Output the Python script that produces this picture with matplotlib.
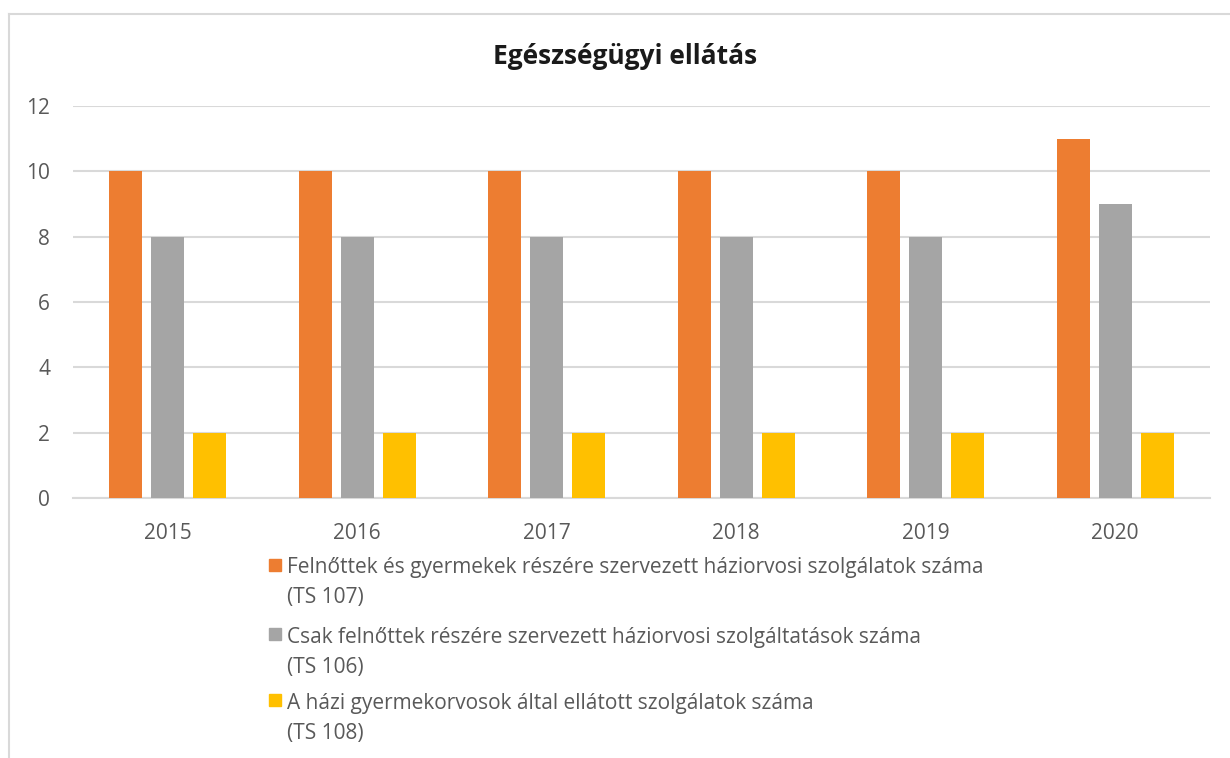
import matplotlib
matplotlib.use('Agg')
import matplotlib.pyplot as plt
import numpy as np
from matplotlib.patches import Rectangle
from matplotlib.lines import Line2D

plt.rcParams['font.family'] = ['Open Sans', 'DejaVu Sans']

years = ['2015', '2016', '2017', '2018', '2019', '2020']
ts107 = [10, 10, 10, 10, 10, 11]
ts106 = [8, 8, 8, 8, 8, 9]
ts108 = [2, 2, 2, 2, 2, 2]
labels = [
    'Felnőttek és gyermekek részére szervezett háziorvosi szolgálatok száma\n(TS 107)',
    'Csak felnőttek részére szervezett háziorvosi szolgáltatások száma\n(TS 106)',
    'A házi gyermekorvosok által ellátott szolgálatok száma\n(TS 108)',
]
colors = ['#ED7D31', '#A5A5A5', '#FFC000']

W, H = 1230, 758
fig = plt.figure(figsize=(12.3, 7.58), dpi=100, facecolor='white')

# chart frame (light grey, only left and top visible)
fig.add_artist(Line2D([9 / W, 9 / W], [0, 1 - 14 / H], color='#d9d9d9', lw=1.5))
fig.add_artist(Line2D([9 / W, 1], [1 - 14 / H, 1 - 14 / H], color='#d9d9d9', lw=1.5))

ax = fig.add_axes([73 / W, 1 - 498 / H, (1210 - 73) / W, (498 - 106) / H])
x = np.arange(len(years))
bw = 0.175
off = 0.222
for i, (vals, c) in enumerate(zip([ts107, ts106, ts108], colors)):
    ax.bar(x + (i - 1) * off, vals, width=bw, color=c, zorder=3)

ax.set_xlim(-0.5, len(years) - 0.5)
ax.set_ylim(0, 12)
ax.set_yticks(range(0, 13, 2))
ax.set_xticks(x)
ax.set_xticklabels(years)
ax.tick_params(axis='both', length=0, labelsize=15, colors='#595959')
ax.tick_params(axis='x', pad=18)
ax.tick_params(axis='y', pad=16.5)
ax.grid(axis='y', color='#d9d9d9', lw=1.5, zorder=0)
for s in ['top', 'right', 'left']:
    ax.spines[s].set_visible(False)
ax.spines['bottom'].set_color('#d9d9d9')
ax.spines['bottom'].set_linewidth(1.5)

fig.text(625 / W, 1 - 57 / H, 'Egészségügyi ellátás', ha='center', va='center',
         fontsize=19, fontweight='bold', color='#1a1a1a')

# legend: square marker beside the first line, second line underneath
ys = [565, 634, 700]
for lab, c, y in zip(labels, colors, ys):
    fig.add_artist(Rectangle((269 / W, 1 - (y + 6) / H), 12 / W, 12 / H,
                             transform=fig.transFigure, color=c))
    line1, line2 = lab.split('\n')
    fig.text(287 / W, 1 - (y + 3) / H, line1, ha='left', va='center', fontsize=15,
             color='#595959')
    fig.text(287 / W, 1 - (y + 33) / H, line2, ha='left', va='center', fontsize=15,
             color='#595959')

fig.savefig('out.png', dpi=100, facecolor='white')
